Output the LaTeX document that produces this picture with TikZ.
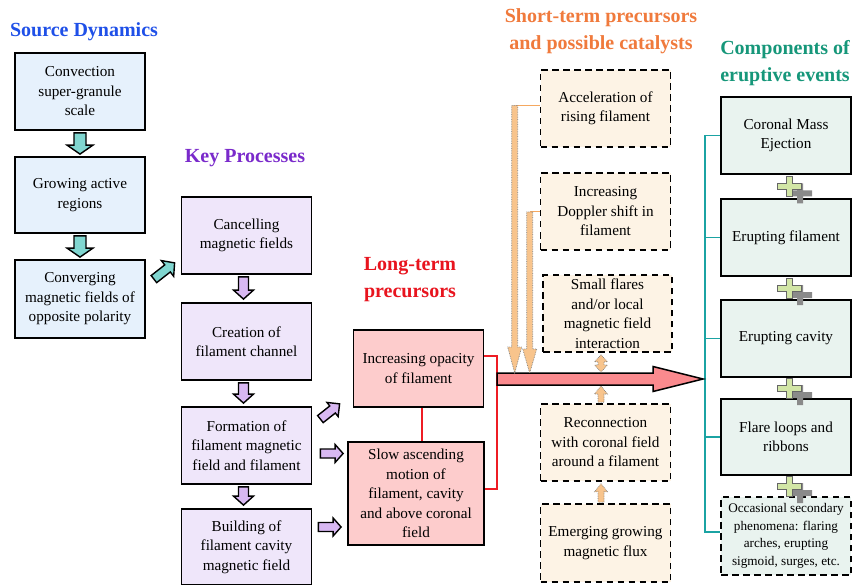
\documentclass[tikz,border=0pt]{standalone}
\usepackage{fontspec}
\setmainfont{Liberation Serif}
\usetikzlibrary{calc}
\definecolor{srcblue}{HTML}{1F50E8}
\definecolor{keypurple}{HTML}{7A2ACB}
\definecolor{ltred}{HTML}{E8141E}
\definecolor{storange}{HTML}{F07A3C}
\definecolor{compgreen}{HTML}{16977A}
\definecolor{srcfill}{HTML}{E6F1FC}
\definecolor{keyfill}{HTML}{EFE6FA}
\definecolor{ltfill}{HTML}{FDCCCC}
\definecolor{stfill}{HTML}{FDF3E5}
\definecolor{cfill}{HTML}{E9F3EF}
\definecolor{tealfill}{HTML}{80D6D0}
\definecolor{purpfill}{HTML}{D8B8F2}
\definecolor{bigfill}{HTML}{FA8A8E}
\definecolor{orfill}{HTML}{F8C48C}
\definecolor{orline}{HTML}{F5A860}
\definecolor{tealline}{HTML}{1BA3A3}
\definecolor{redline}{HTML}{EE1C24}
\definecolor{plusfill}{HTML}{D2E6A6}
\definecolor{plusshadow}{HTML}{8A8A8A}
\tikzset{
  box/.style={draw=black, line width=1.8pt, minimum width=130pt, minimum height=77pt,
    align=center, inner sep=2pt, font=\fontsize{15.2}{19.5}\selectfont},
  srcbox/.style={box, fill=srcfill},
  keybox/.style={box, fill=keyfill},
  ltbox/.style={box, fill=ltfill},
  dbox/.style={box, line width=1.6pt, dash pattern=on 6.5pt off 4.5pt},
  stbox/.style={dbox, fill=stfill},
  cbox/.style={box, fill=cfill},
  title/.style={font=\fontsize{20}{27}\selectfont\bfseries, align=center},
  tealarr/.style={draw=black, line width=1.4pt, fill=tealfill, line join=miter},
  purparr/.style={draw=black, line width=1.4pt, fill=purpfill, line join=miter},
  bigarr/.style={draw=black, line width=1.5pt, fill=bigfill, line join=miter},
  orarr/.style={draw=gray, line width=0.7pt, densely dotted, fill=orfill},
  orthin/.style={draw=orline, line width=1pt},
  redbr/.style={draw=redline, line width=1.5pt},
  tealbr/.style={draw=tealline, line width=1.5pt},
  plussign/.pic={
    \fill[plusshadow] (1.5,4) -- (7.5,4) -- (7.5,-3) -- (13.5,-3) -- (13.5,4) -- (22.5,4) -- (22.5,10) -- (13.5,10) -- (13.5,17) -- (7.5,17) -- (7.5,10) -- (1.5,10) -- cycle;
    \filldraw[fill=plusfill, draw=gray!80!black, line width=0.6pt] (-12,-3) -- (-3,-3) -- (-3,-10) -- (3,-10) -- (3,-3) -- (12,-3) -- (12,3) -- (3,3) -- (3,10) -- (-3,10) -- (-3,3) -- (-12,3) -- cycle;
  }
}
\newcommand\barrow[6]{%
  \coordinate (ba-s) at #2;
  \coordinate (ba-e) at #3;
  \coordinate (ba-h) at ($(ba-e)!#6!(ba-s)$);
  \draw[#1] ($(ba-s)!#4!90:(ba-e)$) -- ($(ba-h)!#4!90:(ba-e)$) -- ($(ba-h)!#5!90:(ba-e)$)
    -- (ba-e) -- ($(ba-h)!#5!-90:(ba-e)$) -- ($(ba-h)!#4!-90:(ba-e)$)
    -- ($(ba-s)!#4!-90:(ba-e)$) -- cycle;}
\newcommand\dbarrow[6]{%
  \coordinate (ba-s) at #2;
  \coordinate (ba-e) at #3;
  \coordinate (ba-h) at ($(ba-e)!#6!(ba-s)$);
  \coordinate (ba-g) at ($(ba-s)!#6!(ba-e)$);
  \draw[#1] (ba-s) -- ($(ba-g)!#5!90:(ba-e)$) -- ($(ba-g)!#4!90:(ba-e)$)
    -- ($(ba-h)!#4!90:(ba-e)$) -- ($(ba-h)!#5!90:(ba-e)$)
    -- (ba-e) -- ($(ba-h)!#5!-90:(ba-e)$) -- ($(ba-h)!#4!-90:(ba-e)$)
    -- ($(ba-g)!#4!-90:(ba-e)$) -- ($(ba-g)!#5!-90:(ba-e)$) -- cycle;}
\begin{document}
\begin{tikzpicture}[x=1pt,y=-1pt]
\useasboundingbox (0,0) rectangle (853,585);
\fill[white] (0,0) rectangle (853,585);

% titles
\node[title, text=srcblue] (tsrc) at (84,32) {Source Dynamics};
\node[title, text=keypurple] (tkey) at (245,158) {Key Processes};
\node[title, text=ltred] (tlt) at (410,280) {Long-term\\precursors};
\node[title, text=storange] (tst) at (601,31) {Short-term precursors\\and possible catalysts};
\node[title, text=compgreen] (tcomp) at (785,63) {Components of\\eruptive events};

% source dynamics
\node[srcbox] (src1) at (80,91.5) {Convection\\super-granule\\scale};
\node[srcbox, minimum height=76pt] (src2) at (80,195) {Growing active\\regions};
\node[srcbox, minimum height=78pt] (src3) at (80,299) {Converging\\magnetic fields of\\opposite polarity};

% key processes
\node[keybox] (k1) at (246.5,235.5) {Cancelling\\magnetic fields};
\node[keybox] (k2) at (246.5,341.5) {Creation of\\filament channel};
\node[keybox] (k3) at (246.5,445.5) {Formation of\\filament magnetic\\field and filament};
\node[keybox, minimum height=76pt] (k4) at (246.5,547) {Building of\\filament cavity\\magnetic field};

% long-term precursors
\node[ltbox] (l1) at (418.5,368.5) {Increasing opacity\\of filament};
\node[ltbox, minimum width=136pt, minimum height=103pt] (l2) at (416,493.5) {Slow ascending\\motion of\\filament, cavity\\and above coronal\\field};

% short-term precursors
\node[stbox] (s1) at (605.5,108.5) {Acceleration of\\rising filament};
\node[stbox] (s2) at (605.5,211.5) {Increasing\\Doppler shift in\\filament};
\node[stbox, minimum width=129pt] (s3) at (607.5,313.5) {Small flares\\and/or local\\magnetic field\\interaction};
\node[stbox] (s4) at (605.5,442.5) {Reconnection\\with coronal field\\around a filament};
\node[stbox, minimum height=78pt] (s5) at (605.5,543) {Emerging growing\\magnetic flux};

% components
\node[cbox] (c1) at (786,135.5) {Coronal Mass\\Ejection};
\node[cbox] (c2) at (786,237.5) {Erupting filament};
\node[cbox] (c3) at (786,338.5) {Erupting cavity};
\node[cbox, minimum height=76pt] (c4) at (786,437) {Flare loops and\\ribbons};
\node[cbox, line width=1.6pt, dash pattern=on 6.5pt off 4.5pt, minimum height=78pt,
  font=\fontsize{13.2}{17.5}\selectfont] (c5) at (786,536) {Occasional secondary\\phenomena: flaring\\arches, erupting\\sigmoid, surges, etc.};

% teal arrows
\barrow{tealarr}{($(src1.south)+(0,2)$)}{($(src2.north)+(0,-2)$)}{6pt}{13pt}{9pt}
\barrow{tealarr}{($(src2.south)+(0,2)$)}{($(src3.north)+(0,-2)$)}{6pt}{13pt}{9pt}
\barrow{tealarr}{($(src3.north east)+(8,20)$)}{($(k1.south west)+(-6,-12)$)}{4.5pt}{10pt}{9pt}

% purple arrows
\barrow{purparr}{($(k1.south)+(-3,2)$)}{($(k2.north)+(-3,-3)$)}{5pt}{10pt}{9pt}
\barrow{purparr}{($(k2.south)+(-3,2)$)}{($(k3.north)+(-3,-3)$)}{5pt}{10pt}{9pt}
\barrow{purparr}{($(k3.south)+(-3,2)$)}{($(k4.north)+(-3,-3)$)}{5pt}{10pt}{9pt}
\barrow{purparr}{($(k3.north east)+(8,13)$)}{($(l1.south west)+(-13,-4)$)}{4.5pt}{9pt}{9pt}
\barrow{purparr}{($(k3.east)+(8,8)$)}{($(l2.west)+(-4,-40)$)}{4.5pt}{9pt}{8pt}
\barrow{purparr}{($(k4.east)+(6,-20)$)}{($(l2.west)+(-6,33.5)$)}{4.5pt}{9pt}{8pt}

% red bracket
\coordinate (rb) at (497,379);
\draw[redbr] ($(l1.east)+(0,-12.5)$) -| (rb);
\draw[redbr] ($(l2.east)+(0,-4.5)$) -| (rb);
\draw[redbr] ($(l1.south)+(3.5,0)$) coordinate (rl) -- (rl |- l2.north);

% teal bracket
\coordinate (tb) at (705,379);
\draw[tealbr] (c1.west) -- (c1.west -| tb) -- ($(c5.west -| tb)+(0,-4)$) -- ($(c5.west)+(0,-4)$);
\foreach \n in {c2,c3,c4} \draw[tealbr] (\n.west) -- (\n.west -| tb);

% big arrow
\barrow{bigarr}{(rb)}{($(tb)+(-2,0)$)}{6pt}{12.5pt}{50pt}
\coordinate (bat) at ($(rb)+(0,-6)$);
\coordinate (bab) at ($(rb)+(0,6)$);

% orange long arrows
\draw[orthin] ($(s1.west)+(0,-3)$) -- ++(-25,0) coordinate (o1);
\draw[orthin] ($(s2.west)+(0,0.5)$) -- ++(-10,0) coordinate (o2);
\barrow{orarr}{(o1)}{(o1 |- bat)}{3pt}{7pt}{26pt}
\barrow{orarr}{(o2)}{(o2 |- bat)}{3pt}{7pt}{24pt}

% orange small arrows
\coordinate (ox) at ($(s3.south)+(-6.5,0)$);
\dbarrow{orarr}{($(ox)+(0,2)$)}{($(ox |- bat)+(0,-1)$)}{3pt}{6.5pt}{7pt}
\barrow{orarr}{($(ox |- s4.north)+(0,-1)$)}{($(ox |- bab)+(0,1)$)}{3pt}{6.5pt}{8pt}
\barrow{orarr}{($(ox |- s5.north)+(0,-1)$)}{($(ox |- s4.south)+(0,2)$)}{3pt}{6.5pt}{8pt}

% plus signs
\foreach \a/\b in {c1/c2,c2/c3,c3/c4,c4/c5}
  \pic at ($(\a.south)!0.5!(\b.north)+(3.5,0)$) {plussign};
\end{tikzpicture}
\end{document}
